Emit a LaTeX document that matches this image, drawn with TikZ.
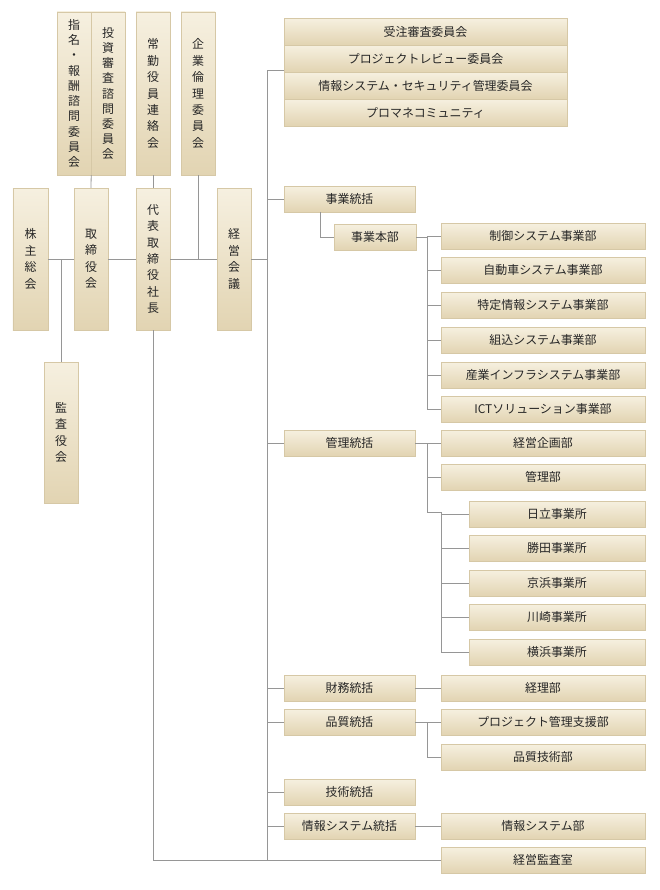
\documentclass[tikz,border=0pt]{standalone}
\usepackage{fontspec}
\setmainfont{Noto Sans CJK JP}
\definecolor{boxtop}{RGB}{246,240,224}
\definecolor{boxbot}{RGB}{226,212,178}
\definecolor{boxedge}{RGB}{214,200,166}
\definecolor{linec}{RGB}{150,150,150}
\tikzset{
  org/.style={draw=boxedge,top color=boxtop,bottom color=boxbot,inner sep=0pt,font=\fontsize{12}{14}\selectfont,text=black!85},
  hbox/.style={org,minimum height=26bp},
  vbox/.style={org,align=center,font=\fontsize{12}{16.5}\selectfont},
  link/.style={linec,line width=0.8pt}
}
\begin{document}
\begin{tikzpicture}[x=1bp,y=-1bp]
  \useasboundingbox (0,0) rectangle (660,890);
  % top vertical boxes
  \node[vbox,minimum width=34bp,minimum height=163bp,font=\fontsize{12}{15.3}\selectfont] (shimei) at (74,93.5) {指\\名\\・\\報\\酬\\諮\\問\\委\\員\\会};
  \node[vbox,minimum width=34bp,minimum height=163bp,font=\fontsize{12}{15.3}\selectfont] (toushi) at (108,93.5) {投\\資\\審\\査\\諮\\問\\委\\員\\会};
  \node[vbox,minimum width=34bp,minimum height=163bp] (joukin) at (153,93.5) {常\\勤\\役\\員\\連\\絡\\会};
  \node[vbox,minimum width=34bp,minimum height=163bp] (rinri) at (198,93.5) {企\\業\\倫\\理\\委\\員\\会};
  % middle row
  \node[vbox,minimum width=35bp,minimum height=142bp] (kabu) at (30.5,259) {株\\主\\総\\会};
  \node[vbox,minimum width=34bp,minimum height=142bp] (torishimari) at (91,259) {取\\締\\役\\会};
  \node[vbox,minimum width=34bp,minimum height=142bp] (shachou) at (153,259) {代\\表\\取\\締\\役\\社\\長};
  \node[vbox,minimum width=34bp,minimum height=142bp] (keiei) at (234,259) {経\\営\\会\\議};
  \node[vbox,minimum width=34bp,minimum height=141bp] (kansa) at (61,432.5) {監\\査\\役\\会};
  % committees
  \node[hbox,minimum width=283bp,minimum height=27bp] (c1) at (425.5,31.5) {受注審査委員会};
  \node[hbox,minimum width=283bp,minimum height=27bp] (c2) at (425.5,58.5) {プロジェクトレビュー委員会};
  \node[hbox,minimum width=283bp,minimum height=27bp] (c3) at (425.5,85.5) {情報システム・セキュリティ管理委員会};
  \node[hbox,minimum width=283bp,minimum height=27bp] (c4) at (425.5,112.5) {プロマネコミュニティ};
  % divisions
  \node[hbox,minimum width=131bp] (jigyo) at (349.5,199) {事業統括};
  \node[hbox,minimum width=82bp] (honbu) at (375,237) {事業本部};
  \node[hbox,minimum width=131bp] (kanri) at (349.5,443) {管理統括};
  \node[hbox,minimum width=131bp] (zaimu) at (349.5,688) {財務統括};
  \node[hbox,minimum width=131bp] (hinshitsu) at (349.5,722) {品質統括};
  \node[hbox,minimum width=131bp] (gijutsu) at (349.5,792) {技術統括};
  \node[hbox,minimum width=131bp] (joho) at (349.5,826) {情報システム統括};
  % departments
  \foreach \n/\y/\t in {s1/236/制御システム事業部,s2/270/自動車システム事業部,s3/305/特定情報システム事業部,
      s4/340/組込システム事業部,s5/375/産業インフラシステム事業部,s6/409/ICTソリューション事業部,
      k1/443/経営企画部,k2/477/管理部,z1/688/経理部,h1/722/プロジェクト管理支援部,h2/757/品質技術部,
      j1/826/情報システム部,audit/860/経営監査室}
    \node[hbox,minimum width=204bp] (\n) at (543,\y) {\t};
  \foreach \n/\y/\t in {o1/514/日立事業所,o2/548/勝田事業所,o3/583/京浜事業所,o4/617/川崎事業所,o5/652/横浜事業所}
    \node[hbox,minimum width=176bp] (\n) at (557,\y) {\t};
  % connectors
  \coordinate (spine top) at (267,70);
  \coordinate (spine bot) at (267,860);
  \draw[link] (spine top) -- (spine bot);
  \draw[link] (spine top) -- (c3.west |- spine top);
  \draw[link] (kabu.east) -- (torishimari.west);
  \draw[link] (torishimari.east) -- (shachou.west);
  \draw[link] (shachou.east) -- (keiei.west);
  \draw[link] (keiei.east) -- (keiei.east -| spine top);
  \draw[link] (kansa.north) -- (kansa.north |- kabu.east);
  \draw[link] (shimei.south east) -- (torishimari.north);
  \draw[link] (joukin.south) -- (shachou.north);
  \draw[link] (rinri.south) -- (rinri.south |- keiei.west);
  \draw[link] (shachou.south) -- (shachou.south |- audit.west) -- (audit.west);
  \foreach \n in {jigyo,kanri,zaimu,hinshitsu,gijutsu,joho}
    \draw[link] (\n.west -| spine top) -- (\n.west);
  \draw[link] (jigyo.south -| 320,0) -- (320,237) -- (honbu.west);
  \draw[link] (honbu.east) -- (427,237);
  \draw[link] (427,236) -- (427,409);
  \foreach \n in {s1,s2,s3,s4,s5,s6}
    \draw[link] (\n.west -| 427,0) -- (\n.west);
  \draw[link] (kanri.east) -- (k1.west);
  \draw[link] (427,443) -- (427,512) -- (441,512) -- (441,652);
  \draw[link] (k2.west -| 427,0) -- (k2.west);
  \foreach \n in {o1,o2,o3,o4,o5}
    \draw[link] (\n.west -| 441,0) -- (\n.west);
  \draw[link] (zaimu.east) -- (z1.west);
  \draw[link] (hinshitsu.east) -- (h1.west);
  \draw[link] (427,722) -- (427,757) -- (h2.west);
  \draw[link] (joho.east) -- (j1.west);
\end{tikzpicture}
\end{document}
